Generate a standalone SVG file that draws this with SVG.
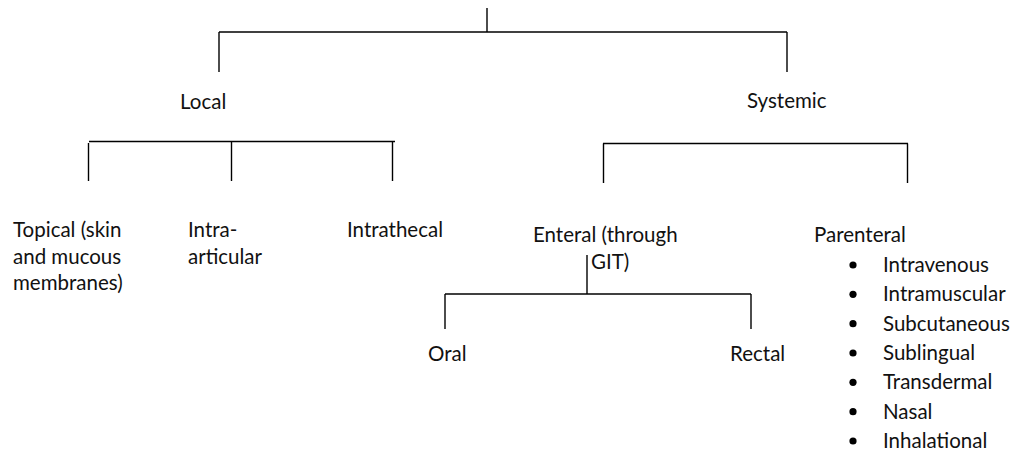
<svg xmlns="http://www.w3.org/2000/svg" width="1016" height="452" viewBox="0 0 1016 452">
  <style>
    .lbl { font-family: Lato, "Liberation Sans", sans-serif; font-size: 20.5px; fill: #111; }
    .wire line { stroke: #000; stroke-width: 1.4; }
    .dot { fill: #000; }
  </style>
  <rect width="1016" height="452" fill="#fff"/>

  <!-- tree connectors -->
  <g id="connectors" class="wire">
    <!-- root -->
    <line x1="487" y1="8" x2="487" y2="32"/>
    <line x1="219" y1="32" x2="787" y2="32"/>
    <line x1="219" y1="32" x2="219" y2="72"/>
    <line x1="787" y1="32" x2="787" y2="72"/>
    <!-- local bracket -->
    <line x1="89" y1="141.5" x2="395" y2="141.5"/>
    <line x1="88.5" y1="143" x2="88.5" y2="181"/>
    <line x1="231.5" y1="141.5" x2="231.5" y2="181"/>
    <line x1="392.5" y1="141.5" x2="392.5" y2="181"/>
    <!-- systemic bracket -->
    <line x1="603" y1="143.5" x2="908" y2="143.5"/>
    <line x1="603.5" y1="143.5" x2="603.5" y2="183"/>
    <line x1="907.5" y1="143.5" x2="907.5" y2="183"/>
    <!-- enteral bracket -->
    <line x1="587" y1="255" x2="587" y2="294"/>
    <line x1="445" y1="294" x2="751" y2="294"/>
    <line x1="445" y1="294" x2="445" y2="329"/>
    <line x1="751" y1="294" x2="751" y2="329"/>
  </g>

  <g id="local"><text class="lbl" x="180" y="109">Local</text></g>
  <g id="systemic"><text class="lbl" x="747" y="108">Systemic</text></g>

  <g id="topical">
    <text class="lbl" x="13" y="237">Topical (skin</text>
    <text class="lbl" x="13" y="264">and mucous</text>
    <text class="lbl" x="13" y="290">membranes)</text>
  </g>
  <g id="intra-articular">
    <text class="lbl" x="188" y="237">Intra-</text>
    <text class="lbl" x="188" y="264">articular</text>
  </g>
  <g id="intrathecal"><text class="lbl" x="347" y="237">Intrathecal</text></g>

  <g id="enteral">
    <text class="lbl" x="533" y="242">Enteral (through</text>
    <text class="lbl" x="591" y="269">GIT)</text>
  </g>
  <g id="oral"><text class="lbl" x="428" y="361">Oral</text></g>
  <g id="rectal"><text class="lbl" x="730" y="361">Rectal</text></g>

  <g id="parenteral">
    <text class="lbl" x="814" y="242">Parenteral</text>
    <circle class="dot" cx="853" cy="265" r="3.6"/>
    <text class="lbl" x="883" y="272">Intravenous</text>
    <circle class="dot" cx="853" cy="294.3" r="3.6"/>
    <text class="lbl" x="883" y="301.3">Intramuscular</text>
    <circle class="dot" cx="853" cy="323.7" r="3.6"/>
    <text class="lbl" x="883" y="330.7">Subcutaneous</text>
    <circle class="dot" cx="853" cy="353" r="3.6"/>
    <text class="lbl" x="883" y="360">Sublingual</text>
    <circle class="dot" cx="853" cy="382.3" r="3.6"/>
    <text class="lbl" x="883" y="389.3">Transdermal</text>
    <circle class="dot" cx="853" cy="411.7" r="3.6"/>
    <text class="lbl" x="883" y="418.7">Nasal</text>
    <circle class="dot" cx="853" cy="441" r="3.6"/>
    <text class="lbl" x="883" y="448">Inhalational</text>
  </g>
</svg>
